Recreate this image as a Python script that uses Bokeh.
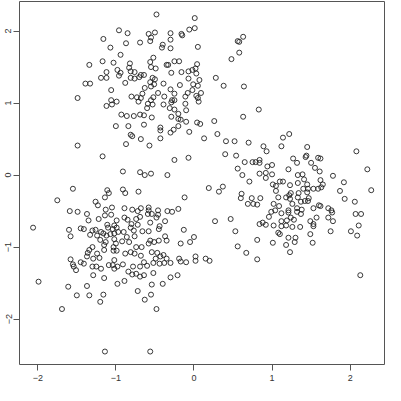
from bokeh.plotting import figure
from bokeh.models import Range1d, FixedTicker
from bokeh.embed import file_html
from bokeh.resources import INLINE

# cluster 1 (upper)
x1 = [-0.96,-0.85,-1.16,-0.87,-0.69,-1.07,-0.94,-1.17,-1.03,-1.34,
      -0.82,-0.98,-0.83,-1.12,-0.81,-0.76,-0.94,-0.96,-0.68,-0.64,
      -1.19,-1.12,-0.81,-0.76,-0.70,-1.39,-1.33,-0.88,-0.63,-1.06,
      -1.49,-0.80,-0.73,-0.66,-0.68,-1.06,-0.99,-0.71,-1.05,-1.12,
      -0.93,-0.86,-0.77,-0.69,-0.64,-1.00,-0.84,-0.64,
      -0.48,0.01,0.01,-0.06,-0.58,-0.50,-0.30,-0.16,-0.15,-0.55,
      -0.56,-0.30,-0.40,-0.41,-0.30,0.05,0.56,0.63,0.58,0.58,
      0.48,-0.52,-0.56,-0.25,-0.19,-0.35,-0.33,0.04,-0.55,-0.49,
      0.02,-0.02,-0.07,-0.16,-0.29,0.03,-0.53,-0.50,-0.07,0.07,
      0.28,-0.56,-0.51,-0.39,-0.18,-0.01,0.05,0.38,0.64,-0.55,
      -0.30,-0.02,-0.46,-0.25,-0.08,0.09,-0.52,-0.38,-0.11,0.03,
      0.05,-0.55,-0.28,-0.59,-0.53,-0.39,-0.29,-0.25,0.06,-0.11,
      -0.31,-0.25,-0.10,-0.60,-0.54,-0.29,-0.20,-0.20,-0.17,-0.10,
      0.04,0.08,0.26,0.63,0.83,-0.43,-0.20,-0.81,-0.79,-0.68,
      -1.49,-0.87,-1.17,-0.43,-0.26,-0.30,-0.06,-0.43,-0.57,0.13,
      0.30,0.41,0.52,-0.25,-0.07]
y1 = [2.01,1.97,1.89,1.83,1.84,1.77,1.67,1.58,1.56,1.53,
      1.55,1.46,1.49,1.43,1.44,1.43,1.42,1.38,1.39,1.39,
      1.35,1.35,1.35,1.34,1.36,1.27,1.27,1.28,1.21,1.18,
      1.07,1.09,1.08,1.13,1.07,1.04,1.02,1.02,0.98,0.96,
      0.84,0.82,0.82,0.84,0.83,0.68,0.68,0.70,
      2.23,2.18,2.04,2.02,1.96,1.98,1.97,1.96,1.94,1.91,
      1.86,1.88,1.81,1.77,1.76,1.78,1.86,1.92,1.85,1.70,
      1.61,1.63,1.57,1.58,1.58,1.53,1.53,1.54,1.50,1.48,
      1.48,1.46,1.44,1.43,1.42,1.41,1.35,1.33,1.34,1.32,
      1.35,1.29,1.26,1.27,1.25,1.26,1.24,1.24,1.23,1.23,
      1.19,1.18,1.14,1.13,1.14,1.14,1.08,1.09,1.09,1.10,
      1.07,1.04,1.04,0.99,0.98,0.98,1.01,1.04,1.02,0.99,
      0.93,0.91,0.90,0.93,0.80,0.81,0.85,0.78,0.77,0.74,
      0.73,0.71,0.75,0.81,0.91,0.66,0.68,0.56,0.54,0.50,
      0.41,0.43,0.26,0.62,0.63,0.59,0.60,0.51,0.41,0.51,
      0.57,0.47,0.47,0.21,0.24]

# cluster 2 (lower left)
x2 = [-0.91,-0.69,-0.63,-1.55,-1.11,-1.09,-0.91,-0.88,-0.71,-1.14,
      -1.75,-1.26,-1.23,-1.59,-1.49,-1.37,-1.13,-1.05,-0.89,-0.79,
      -0.72,-0.68,-1.14,-1.06,-0.89,-1.35,-1.22,-0.99,-0.85,-0.74,
      -0.69,-1.11,-1.02,-0.80,-0.72,-2.06,-1.60,-1.45,-1.41,-1.30,
      -1.26,-1.19,-1.10,-1.04,-0.99,-0.90,-0.81,-0.77,-0.66,-1.58,
      -1.33,-1.24,-1.16,-1.12,-1.07,-1.02,-0.97,-0.86,-0.76,-1.20,
      -1.13,-1.02,-0.92,-0.83,-1.30,-1.15,-1.00,-0.74,-0.67,-0.55,
      -0.34,-0.12,-0.58,-0.58,-0.46,-0.34,-0.28,-0.20,-0.59,-0.54,
      -0.46,-0.48,-0.37,-0.56,-0.44,-0.45,-0.58,-0.13,-0.37,0.00,
      -0.35,-0.56,-0.51,-0.45,-0.58,-0.17,-0.05,-1.34,-1.36,-1.15,
      -1.03,-0.99,-1.03,-0.88,-0.81,-0.76,-1.24,-1.37,-1.29,-1.21,
      -1.02,-0.68,-1.58,-1.45,-1.41,-1.55,-1.54,-1.51,-1.30,-1.25,
      -1.19,-1.09,-1.04,-0.98,-1.02,-0.91,-0.78,-0.69,-0.64,-0.84,
      -0.79,-0.74,-0.69,-0.64,-1.99,-1.29,-1.15,-0.89,-0.98,-1.61,
      -1.37,-0.72,-1.50,-1.34,-1.16,-1.20,-0.63,-1.69,-1.14,-0.54,
      -0.47,-0.39,-0.43,-0.49,-0.35,-0.52,-0.44,-0.38,-0.30,-0.19,
      -0.17,-0.10,0.02,0.02,0.15,0.20,-0.60,-0.52,-0.30,-0.21,
      -0.54,-0.40,-0.55,-0.48,-0.56]
y2 = [0.05,0.04,0.00,-0.19,-0.21,-0.25,-0.20,-0.25,-0.23,-0.31,
      -0.35,-0.37,-0.42,-0.50,-0.51,-0.54,-0.48,-0.45,-0.46,-0.48,
      -0.50,-0.46,-0.56,-0.55,-0.59,-0.63,-0.61,-0.63,-0.62,-0.61,
      -0.58,-0.69,-0.70,-0.68,-0.69,-0.73,-0.76,-0.74,-0.75,-0.77,
      -0.76,-0.79,-0.73,-0.75,-0.73,-0.79,-0.73,-0.77,-0.78,-0.85,
      -0.83,-0.84,-0.81,-0.84,-0.82,-0.81,-0.79,-0.86,-0.85,-0.90,
      -0.93,-0.89,-0.92,-0.93,-1.00,-0.97,-0.95,-1.00,-1.00,0.02,
      0.00,-0.31,-0.45,-0.49,-0.49,-0.50,-0.51,-0.47,-0.54,-0.54,
      -0.55,-0.59,-0.64,-0.66,-0.71,-0.75,-0.78,-0.76,-0.85,-0.86,
      -0.91,-0.91,-0.93,-0.91,-0.95,-0.95,-0.93,-1.04,-1.08,-1.04,
      -1.00,-1.05,-1.05,-1.09,-1.07,-1.09,-1.09,-1.13,-1.16,-1.15,
      -1.18,-1.12,-1.17,-1.21,-1.23,-1.24,-1.27,-1.32,-1.27,-1.27,
      -1.30,-1.25,-1.25,-1.27,-1.30,-1.24,-1.27,-1.27,-1.21,-1.34,
      -1.38,-1.37,-1.41,-1.39,-1.48,-1.39,-1.43,-1.47,-1.51,-1.55,
      -1.54,-1.61,-1.67,-1.67,-1.66,-1.76,-1.73,-1.86,-2.45,-1.07,
      -1.08,-1.11,-1.13,-1.16,-1.16,-1.22,-1.23,-1.22,-1.22,-1.16,
      -1.20,-1.21,-1.13,-1.19,-1.16,-1.19,-1.26,-1.36,-1.42,-1.39,
      -1.52,-1.51,-1.66,-1.86,-2.45]

# cluster 3 (right)
x3 = [0.70,0.89,0.93,0.40,0.54,0.65,0.75,0.79,0.84,0.84,
      0.94,0.56,0.62,0.84,0.92,0.92,0.71,0.19,0.32,0.37,
      0.61,0.60,0.74,0.85,0.69,0.76,0.81,0.27,0.47,0.53,
      0.88,0.84,0.92,0.56,0.81,1.14,1.22,1.12,1.45,2.08,
      1.27,1.43,1.44,1.59,1.62,1.32,1.50,1.00,1.21,1.55,
      1.61,2.22,1.00,1.33,1.39,1.41,1.14,1.10,1.01,1.05,
      1.23,1.33,1.45,1.62,1.65,1.78,1.92,1.40,1.46,1.53,
      1.59,1.63,1.87,2.27,1.05,1.24,1.34,1.45,1.08,1.18,
      1.22,1.23,1.33,1.42,1.47,1.46,1.37,1.93,2.06,1.02,
      1.09,1.26,1.60,1.62,1.72,1.53,1.32,0.99,1.04,1.21,
      1.21,1.38,1.32,1.12,1.76,1.77,2.07,2.14,0.96,1.24,
      1.37,1.57,1.72,1.12,1.19,1.28,1.49,1.78,1.02,1.12,
      1.18,1.26,1.36,1.53,1.53,2.11,1.08,1.10,1.49,1.75,
      2.01,2.09,1.21,1.30,1.29,1.01,1.18,1.52,0.67,0.81,
      1.23,2.13]
y3 = [0.45,0.40,0.33,0.29,0.27,0.18,0.18,0.18,0.17,0.21,
      0.12,0.09,0.00,0.02,0.03,-0.04,-0.09,-0.18,-0.23,-0.16,
      -0.26,-0.32,-0.32,-0.32,-0.40,-0.40,-0.41,-0.64,-0.61,-0.78,
      -0.66,-0.68,-0.69,-0.99,-0.90,0.52,0.57,0.40,0.39,0.33,
      0.23,0.25,0.27,0.24,0.23,0.17,0.17,0.14,0.08,0.10,
      0.05,0.08,0.01,0.00,0.01,-0.06,-0.09,-0.09,-0.13,-0.15,
      -0.14,-0.11,-0.13,-0.07,-0.13,-0.01,-0.10,-0.19,-0.19,-0.19,
      -0.19,-0.17,-0.22,-0.21,-0.22,-0.25,-0.25,-0.24,-0.31,-0.31,
      -0.28,-0.33,-0.31,-0.36,-0.32,-0.36,-0.37,-0.33,-0.37,-0.40,
      -0.43,-0.40,-0.42,-0.43,-0.46,-0.46,-0.46,-0.51,-0.49,-0.49,
      -0.52,-0.48,-0.51,-0.53,-0.49,-0.52,-0.54,-0.54,-0.58,-0.59,
      -0.54,-0.59,-0.59,-0.64,-0.63,-0.62,-0.64,-0.64,-0.70,-0.71,
      -0.70,-0.72,-0.72,-0.68,-0.71,-0.70,-0.80,-0.82,-0.82,-0.78,
      -0.78,-0.84,-0.87,-0.87,-0.93,-0.94,-0.97,-0.94,-1.08,-1.17,
      -1.07,-1.39]

ticks = [-2, -1, 0, 1, 2]

xs = x1 + x2 + x3
ys = y1 + y2 + y3

p = figure(width=385, height=385, output_backend="svg", toolbar_location=None,
           x_range=Range1d(-2.234, 2.44), y_range=Range1d(-2.63, 2.41),
           min_border_left=19, min_border_right=1, min_border_top=1, min_border_bottom=21)
p.background_fill_color = "white"
p.border_fill_color = "white"
p.outline_line_color = "#555555"
p.outline_line_width = 1
p.xgrid.visible = False
p.ygrid.visible = False

p.scatter(xs, ys, size=5, marker="circle", fill_color=None, line_color="#222222", line_width=0.9)

for ax in (p.xaxis, p.yaxis):
    ax.ticker = FixedTicker(ticks=ticks)
    ax.minor_tick_line_color = None
    ax.axis_line_color = None
    ax.major_tick_line_color = "#555555"
    ax.major_tick_out = 6
    ax.major_tick_in = 0
    ax.major_label_text_font = "Liberation Sans"
    ax.major_label_text_font_size = "9px"
    ax.major_label_text_color = "#333333"
p.xaxis.major_label_standoff = 4
p.yaxis.major_label_standoff = 2
p.yaxis.major_label_orientation = "parallel"

open("out.html", "w").write(file_html(p, INLINE))
